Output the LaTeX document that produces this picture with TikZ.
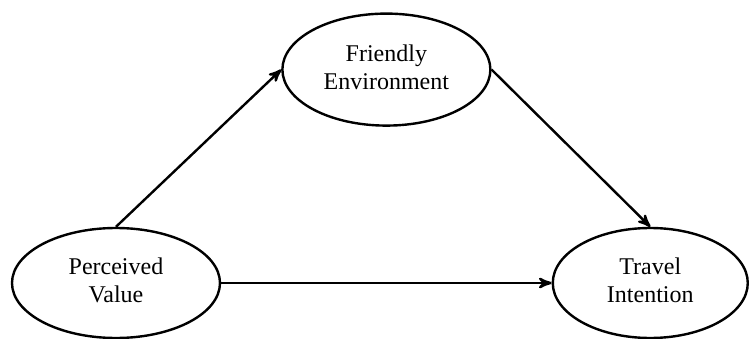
\documentclass[tikz,border=0pt]{standalone}
\usepackage{fontspec}
\setmainfont{Liberation Serif}
\usetikzlibrary{matrix,arrows,shapes.geometric}

\newcommand{\twolines}[2]{\begin{tabular}{@{}c@{}}#1\\#2\end{tabular}}

\begin{document}
\begin{tikzpicture}[line width=1.2pt]
  \matrix (m) [matrix of nodes, row sep=50pt, column sep=30pt,
    nodes={ellipse, draw, minimum width=104pt, minimum height=55pt, font=\fontsize{12pt}{14pt}\selectfont}]
  {
 & |[minimum height=56pt]| \twolines{Friendly}{Environment} & \\
\twolines{Perceived}{Value} & & |[minimum width=97.5pt]| \twolines{Travel}{Intention} \\
};
  \path[-stealth']
  (m-2-1.north) edge (m-1-2.west)
  (m-1-2.east) edge (m-2-3.north)
  (m-2-1.east) edge (m-2-3.west)
  ;
  \pgfresetboundingbox
  \useasboundingbox ([shift={(-58pt,-27.5pt)}]m-2-1.center) rectangle ([shift={(317.5pt,141.5pt)}]m-2-1.center);
\end{tikzpicture}
\end{document}
